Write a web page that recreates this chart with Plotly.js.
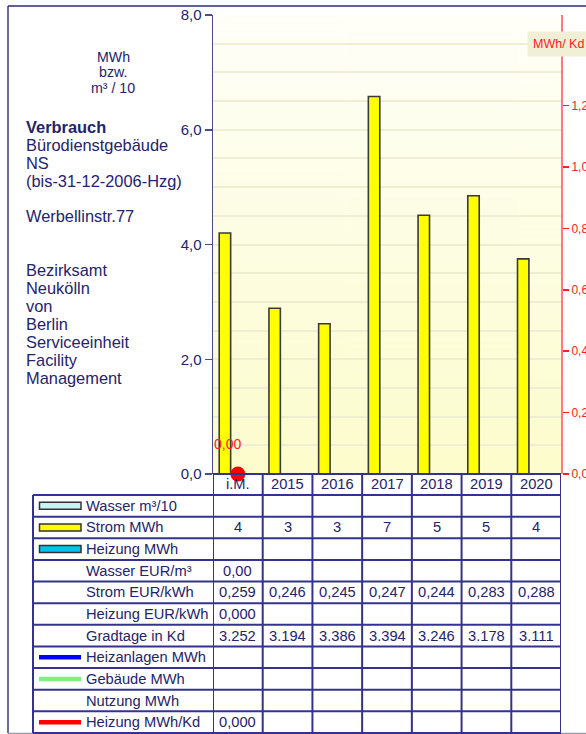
<!DOCTYPE html>
<html>
<head>
<meta charset="utf-8">
<script src="https://cdn.plot.ly/plotly-3.0.1.min.js"></script>
<style>html,body{margin:0;padding:0;background:#fff;}#chart{width:586px;height:734px;}</style>
</head>
<body>
<div id="chart"></div>
<script>
// ---------- data ----------
const categories = ['i.M.', '2015', '2016', '2017', '2018', '2019', '2020'];
const stromMWh = [4.20, 2.89, 2.62, 6.58, 4.51, 4.85, 3.75];
const heizungMWhKd = [0, null, null, null, null, null, null];
const heizungMWhKdLabel = ['0,00', '', '', '', '', '', ''];
const leftTickVals = [0, 2, 4, 6, 8];
const leftTickText = ['0,0', '2,0', '4,0', '6,0', '8,0'];
const rightTickVals = [0, 0.2, 0.4, 0.6, 0.8, 1.0, 1.2];
const rightTickText = ['0,00', '0,20', '0,40', '0,60', '0,80', '1,00', '1,20'];
const rowLabels = ['Wasser m³/10', 'Strom MWh', 'Heizung MWh', 'Wasser EUR/m³', 'Strom EUR/kWh',
  'Heizung EUR/kWh', 'Gradtage in Kd', 'Heizanlagen MWh', 'Gebäude MWh', 'Nutzung MWh', 'Heizung MWh/Kd'];
const rowWasser = ['', '', '', '', '', '', ''];
const rowStrom = ['4', '3', '3', '7', '5', '5', '4'];
const rowHeizung = ['', '', '', '', '', '', ''];
const rowWasserEur = ['0,00', '', '', '', '', '', ''];
const rowStromEur = ['0,259', '0,246', '0,245', '0,247', '0,244', '0,283', '0,288'];
const rowHeizungEur = ['0,000', '', '', '', '', '', ''];
const rowGradtage = ['3.252', '3.194', '3.386', '3.394', '3.246', '3.178', '3.111'];
const rowHeizanlagen = ['', '', '', '', '', '', ''];
const rowGebaeude = ['', '', '', '', '', '', ''];
const rowNutzung = ['', '', '', '', '', '', ''];
const rowHeizungKd = ['0,000', '', '', '', '', '', ''];
const unitLines = ['MWh', 'bzw.', 'm³ / 10'];
const infoLines = ['<b>Verbrauch</b>', 'Bürodienstgebäude', 'NS', '(bis-31-12-2006-Hzg)', '',
  'Werbellinstr.77', '', '', 'Bezirksamt', 'Neukölln', 'von', 'Berlin', 'Serviceeinheit', 'Facility', 'Management'];
const rightAxisTitle = 'MWh/ Kd';

// ---------- styles / geometry ----------
const NAVY = '#23236e';
const GRID = '#33338f';
const FONT = 'Liberation Sans, Arial, sans-serif';
const L = 213, R = 561, T = 15, B = 474;
const px = X => (X - L) / (R - L);
const py = Y => (B - Y) / (B - T);
const xIdx = categories.map((c, i) => i);

const tableRows = [rowWasser, rowStrom, rowHeizung, rowWasserEur, rowStromEur, rowHeizungEur,
  rowGradtage, rowHeizanlagen, rowGebaeude, rowNutzung, rowHeizungKd];
const rowTop0 = 495, rowBottom = 733;
const rowH = (rowBottom - rowTop0) / rowLabels.length;

// swatch types per row
const swatches = [
  {type: 'rect', color: '#c8f4f4'}, {type: 'rect', color: '#ffff00'}, {type: 'rect', color: '#00c4ee'},
  null, null, null, null,
  {type: 'line', color: '#0000ff'}, {type: 'line', color: '#80f080'}, null, {type: 'line', color: '#ff0000'}
];

// gradient background image
const cv = document.createElement('canvas');
cv.width = 4; cv.height = 256;
const ctx = cv.getContext('2d');
const g = ctx.createLinearGradient(0, 0, 0, 256);
g.addColorStop(0, '#fffff9');
g.addColorStop(1, '#fcfccc');
ctx.fillStyle = g; ctx.fillRect(0, 0, 4, 256);
const bgURL = cv.toDataURL('image/png');

const shapes = [];
const annotations = [];

// outer frame
shapes.push({type: 'line', xref: 'paper', yref: 'paper', x0: px(8), x1: px(8), y0: py(6), y1: py(733), line: {color: '#3a3a7c', width: 1.5}});
shapes.push({type: 'line', xref: 'paper', yref: 'paper', x0: px(8), x1: px(590), y0: py(6), y1: py(6), line: {color: '#2a2a78', width: 1.5}});
shapes.push({type: 'line', xref: 'paper', yref: 'paper', x0: px(8), x1: px(590), y0: py(733.5), y1: py(733.5), line: {color: '#9a9aa8', width: 1.5}});

// table: header row lines
shapes.push({type: 'line', xref: 'paper', yref: 'paper', x0: px(L), x1: px(R), y0: py(B), y1: py(B), line: {color: GRID, width: 2}});
// horizontal row lines
for (let i = 0; i <= rowLabels.length; i++) {
  const y = rowTop0 + i * rowH;
  shapes.push({type: 'line', xref: 'paper', yref: 'paper', x0: px(33), x1: px(R), y0: py(y), y1: py(y), line: {color: GRID, width: 2}});
}
// vertical lines
shapes.push({type: 'line', xref: 'paper', yref: 'paper', x0: px(33), x1: px(33), y0: py(rowTop0), y1: py(rowBottom), line: {color: GRID, width: 2}});
shapes.push({type: 'line', xref: 'x', yref: 'paper', x0: -0.5, x1: -0.5, y0: py(B), y1: py(rowBottom), line: {color: GRID, width: 2}});
categories.forEach((c, i) => {
  shapes.push({type: 'line', xref: 'x', yref: 'paper', x0: i + 0.5, x1: i + 0.5, y0: py(B), y1: py(rowBottom), line: {color: GRID, width: 2}});
});

// header labels
categories.forEach((c, i) => {
  annotations.push({xref: 'x', yref: 'paper', x: i, y: py((B + rowTop0) / 2), text: c, showarrow: false,
    xanchor: 'center', yanchor: 'middle', font: {family: FONT, size: 14.7, color: NAVY}});
});

// rows
rowLabels.forEach((lab, r) => {
  const yc = rowTop0 + (r + 0.5) * rowH;
  annotations.push({xref: 'paper', yref: 'paper', x: px(84), y: py(yc), text: lab, showarrow: false,
    xanchor: 'left', yanchor: 'middle', font: {family: FONT, size: 14.7, color: NAVY}});
  const sw = swatches[r];
  if (sw && sw.type === 'rect') {
    shapes.push({type: 'rect', xref: 'paper', yref: 'paper', x0: px(39.5), x1: px(81), y0: py(yc - 3.5), y1: py(yc + 3.5),
      fillcolor: sw.color, line: {color: '#333333', width: 1.5}});
  } else if (sw && sw.type === 'line') {
    shapes.push({type: 'line', xref: 'paper', yref: 'paper', x0: px(39), x1: px(81), y0: py(yc), y1: py(yc),
      line: {color: sw.color, width: 4.5}});
  }
  tableRows[r].forEach((v, i) => {
    if (v === '') return;
    annotations.push({xref: 'x', yref: 'paper', x: i, y: py(yc), text: v, showarrow: false,
      xanchor: 'center', yanchor: 'middle', font: {family: FONT, size: 14.7, color: NAVY}});
  });
});

// left text block
unitLines.forEach((t, i) => {
  annotations.push({xref: 'paper', yref: 'paper', x: px(113), y: py(57 + i * 15.5), text: t, showarrow: false,
    xanchor: 'center', yanchor: 'middle', font: {family: FONT, size: 14.2, color: NAVY}});
});
infoLines.forEach((t, i) => {
  if (t === '') return;
  annotations.push({xref: 'paper', yref: 'paper', x: px(24), y: py(127 + i * 17.9), text: t, showarrow: false,
    xanchor: 'left', yanchor: 'middle', font: {family: FONT, size: 16.4, color: NAVY}});
});

// right axis title box
annotations.push({xref: 'paper', yref: 'paper', x: px(527), y: py(43.5), text: rightAxisTitle, showarrow: false,
  xanchor: 'left', yanchor: 'middle', bgcolor: '#f1efd6', borderpad: 5,
  font: {family: FONT, size: 12.5, color: '#ff1a1a'}});

// value label of the red marker
heizungMWhKd.forEach((v, i) => {
  if (v === null) return;
  annotations.push({xref: 'x', yref: 'y2', x: i, y: v, text: heizungMWhKdLabel[i], showarrow: false,
    xanchor: 'center', yanchor: 'middle', xshift: -10, yshift: 30,
    font: {family: FONT, size: 14, color: '#ff2020'}});
});

const traces = [
  {type: 'bar', x: xIdx, y: stromMWh, width: 0.23, offset: -0.375, name: 'Strom MWh',
    marker: {color: '#ffff00', line: {color: '#3a3a3a', width: 1.6}}, hoverinfo: 'skip'},
  {type: 'scatter', mode: 'markers', x: xIdx, y: heizungMWhKd, yaxis: 'y2', name: 'Heizung MWh/Kd',
    marker: {color: '#ff0000', size: 15}, cliponaxis: false, hoverinfo: 'skip'}
];

const layout = {
  width: 586, height: 734,
  margin: {l: L, r: 586 - R, t: T, b: 734 - B, pad: 0},
  paper_bgcolor: '#ffffff',
  plot_bgcolor: '#ffffff',
  showlegend: false,
  font: {family: FONT, color: NAVY},
  bargap: 0,
  xaxis: {range: [-0.5, 6.5], showticklabels: false, showgrid: false, zeroline: false, showline: false, ticks: '', fixedrange: true},
  yaxis: {range: [0, 8], tickvals: leftTickVals, ticktext: leftTickText, showgrid: true, gridcolor: '#efedd2', gridwidth: 2,
    minor: {dtick: 0.5, showgrid: true, gridcolor: '#efedd2', gridwidth: 2, ticks: ''},
    zeroline: false, showline: true, linecolor: '#4a4a8c', linewidth: 1.5, ticks: 'outside', ticklen: 7, tickcolor: '#4a4a8c', tickwidth: 1.5,
    tickfont: {family: FONT, size: 15, color: NAVY}, fixedrange: true},
  yaxis2: {range: [0, 1.495], overlaying: 'y', side: 'right', tickvals: rightTickVals, ticktext: rightTickText,
    showgrid: false, zeroline: false, showline: true, linecolor: '#ff7a7a', linewidth: 2,
    ticks: 'outside', ticklen: 6, tickcolor: '#ff2020', tickwidth: 1.5,
    tickfont: {family: FONT, size: 12, color: '#ff2020'}, fixedrange: true},
  images: [{source: bgURL, xref: 'paper', yref: 'paper', x: 0, y: 1, sizex: 1, sizey: 1,
    sizing: 'stretch', xanchor: 'left', yanchor: 'top', layer: 'below'}],
  shapes: shapes,
  annotations: annotations
};

Plotly.newPlot('chart', traces, layout, {displayModeBar: false, staticPlot: true});
</script>
</body>
</html>
